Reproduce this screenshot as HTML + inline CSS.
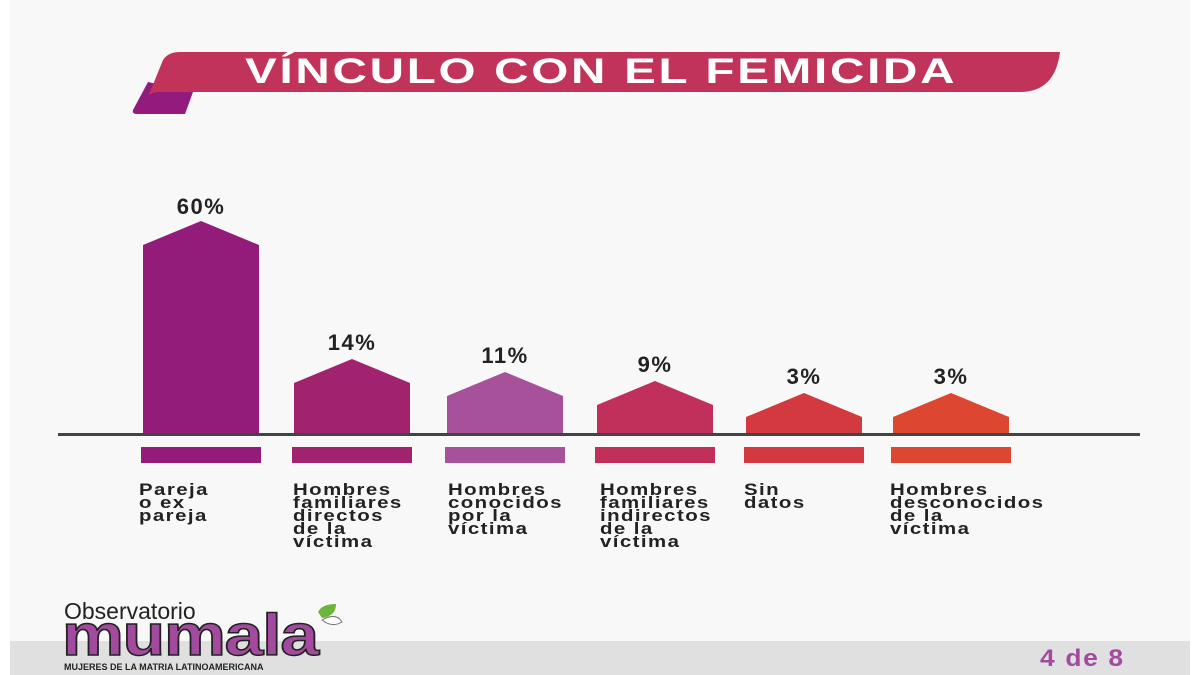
<!DOCTYPE html><html><head><style>
body{margin:0;width:1200px;height:675px;background:#fff;overflow:hidden;font-family:"Liberation Sans",sans-serif}
#bg{position:absolute;left:10px;top:0;width:1180px;height:675px;background:#f8f8f8}
.lab{position:absolute;top:483px;font-weight:bold;font-size:17px;line-height:13px;letter-spacing:1.2px;color:#222;transform:scaleX(1.2);transform-origin:left top}
.pct{position:absolute;font-weight:bold;font-size:22px;color:#222;letter-spacing:1.5px;text-align:center;width:116px}
</style></head><body><div id="bg"></div>
<svg width="1200" height="675" style="position:absolute;left:0;top:0">
<path d="M148 82 L133 110 Q132 114 137 114 L185 114 L193 92 Z" fill="#931b7e"/>
<path d="M163 60 Q168 52 180 52 L1060 52 Q1055 92 1020 92 L160 92 Q150 92 148 97 Z" fill="#c13359"/>
<rect x="10" y="641" width="1180" height="34" fill="#e0e0e0"/>
<g>
<polygon points="143,435 143,245 201,221 259,245 259,435" fill="#931b7a"/>
<polygon points="294,435 294,383 352,359 410,383 410,435" fill="#a1226e"/>
<polygon points="447,435 447,396 505,372 563,396 563,435" fill="#a8519b"/>
<polygon points="597,435 597,405 655,381 713,405 713,435" fill="#c0305a"/>
<polygon points="746,435 746,417 804,393 862,417 862,435" fill="#d3393f"/>
<polygon points="893,435 893,417 951,393 1009,417 1009,435" fill="#dd4630"/>
</g>
<rect x="58" y="433" width="1082" height="3" fill="#444"/>
<rect x="141" y="447" width="120" height="16" fill="#931b7a"/>
<rect x="292" y="447" width="120" height="16" fill="#a1226e"/>
<rect x="445" y="447" width="120" height="16" fill="#a8519b"/>
<rect x="595" y="447" width="120" height="16" fill="#c0305a"/>
<rect x="744" y="447" width="120" height="16" fill="#d3393f"/>
<rect x="891" y="447" width="120" height="16" fill="#dd4630"/>
<path d="M318 612 Q322 604 336 604 Q336 616 322 618 Z" fill="#6ab53b"/>
<path d="M322 620 Q336 612 342 622 Q332 628 322 620 Z" fill="#fff" stroke="#777" stroke-width="1"/>
</svg>
<div style="position:absolute;left:245px;top:52px;font-size:35px;font-weight:900;color:#fff;letter-spacing:2px;transform:scaleX(1.36);transform-origin:left top;white-space:nowrap">VÍNCULO CON EL FEMICIDA</div>
<div class="pct" style="left:143px;top:194px">60%</div>
<div class="pct" style="left:294px;top:330px">14%</div>
<div class="pct" style="left:447px;top:343px">11%</div>
<div class="pct" style="left:597px;top:352px">9%</div>
<div class="pct" style="left:746px;top:364px">3%</div>
<div class="pct" style="left:893px;top:364px">3%</div>
<div class="lab" style="left:139px">Pareja<br>o ex<br>pareja</div>
<div class="lab" style="left:293px">Hombres<br>familiares<br>directos<br>de la<br>víctima</div>
<div class="lab" style="left:448px">Hombres<br>conocidos<br>por la<br>víctima</div>
<div class="lab" style="left:600px">Hombres<br>familiares<br>indirectos<br>de la<br>víctima</div>
<div class="lab" style="left:744px">Sin<br>datos</div>
<div class="lab" style="left:890px">Hombres<br>desconocidos<br>de la<br>víctima</div>
<div style="position:absolute;left:64px;top:598px;font-size:23px;color:#222">Observatorio</div>
<div style="position:absolute;left:62px;top:606px;font-size:58px;font-weight:bold;color:#a24b9e;letter-spacing:-1px;-webkit-text-stroke:1.5px #222;line-height:60px;transform:scaleX(1.2);transform-origin:left top">mumala</div>
<div style="position:absolute;left:64px;top:662px;font-size:9px;font-weight:bold;color:#222">MUJERES DE LA MATRIA LATINOAMERICANA</div>
<div style="position:absolute;left:1040px;top:645px;font-size:24px;font-weight:bold;color:#a24b9e;letter-spacing:1.5px;transform:scaleX(1.1);transform-origin:left top">4 de 8</div>
</body></html>
